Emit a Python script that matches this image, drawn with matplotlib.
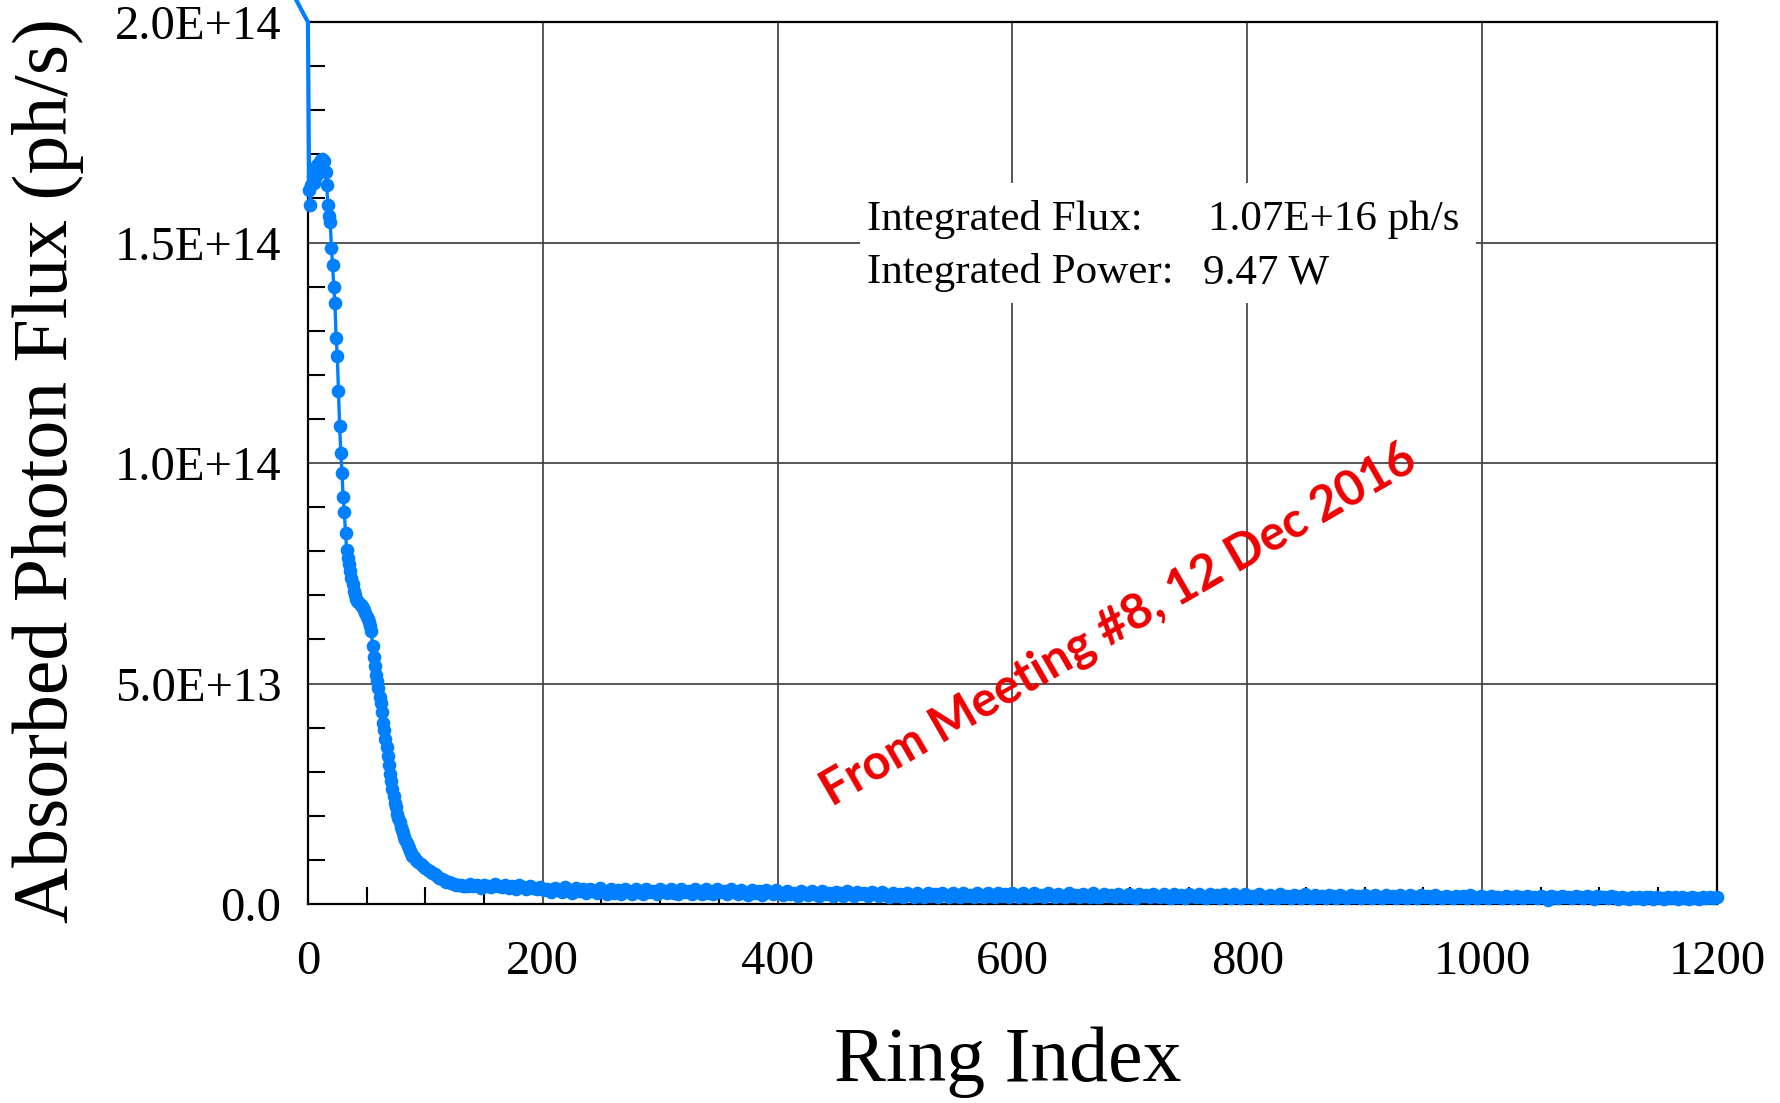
import numpy as np
import matplotlib
matplotlib.use("Agg")
import matplotlib.pyplot as plt
from matplotlib.patches import Rectangle
from matplotlib.ticker import MultipleLocator

# ---------------- data ----------------
lead_index = [-12, 0, 1]
lead_flux = [2.06e14, 2.0e14, 1.62e14]

head_index = list(range(1, 91)) + list(range(92, 137, 2))
head_flux_e13 = [
    16.2, 15.85, 16.3, 16.5, 16.35, 16.6, 16.5, 16.75, 16.6, 16.85,
    16.7, 16.9, 16.8, 16.85, 16.6, 16.3, 15.85, 15.6, 15.46, 14.87,
    14.49, 13.99, 13.63, 12.83, 12.43, 11.63, 10.84, 10.23, 9.77, 9.23,
    8.89, 8.41, 8.03, 7.85, 7.7, 7.55, 7.4, 7.25, 7.1, 7.0,
    6.92, 6.88, 6.84, 6.8, 6.78, 6.75, 6.72, 6.66, 6.6, 6.52,
    6.46, 6.4, 6.3, 6.2, 5.85, 5.6, 5.4, 5.2, 5.05, 4.9,
    4.7, 4.55, 4.35, 4.1, 3.95, 3.75, 3.55, 3.35, 3.15, 2.95,
    2.8, 2.6, 2.45, 2.3, 2.2, 2.05, 1.95, 1.85, 1.75, 1.67,
    1.6, 1.52, 1.45, 1.38, 1.32, 1.26, 1.2, 1.15, 1.1, 1.06,
    1.0, 0.95, 0.9, 0.86, 0.82, 0.78, 0.75, 0.71, 0.67, 0.63,
    0.6, 0.57, 0.54, 0.51, 0.49, 0.47, 0.45, 0.44, 0.43, 0.42,
    0.41, 0.41, 0.40,
]

tail_index = list(range(138, 1201, 3))
tail_flux_e12 = [
    4.6, 4.0, 4.3, 3.7, 4.4, 4.1, 3.8, 4.5, 4.0, 3.9,
    4.3, 3.6, 4.0, 3.5, 4.2, 3.8, 3.4, 4.1, 3.7, 3.5,
    3.9, 3.1, 3.5, 2.7, 3.6, 3.2, 2.8, 3.8, 3.0, 2.6,
    3.6, 2.9, 3.3, 2.4, 3.5, 3.0, 2.5, 3.6, 2.8, 2.3,
    3.4, 2.6, 3.1, 2.2, 3.3, 2.9, 2.3, 3.5, 2.7, 2.2,
    3.4, 2.8, 3.0, 2.3, 3.5, 2.9, 2.4, 3.3, 2.6, 2.3,
    3.4, 2.7, 3.0, 2.2, 3.3, 2.9, 2.3, 3.4, 2.6, 2.2,
    3.3, 2.7, 2.9, 2.2, 3.4, 2.8, 2.3, 3.2, 2.6, 2.1,
    3.2, 2.6, 2.9, 2.1, 3.2, 2.7, 2.2, 3.1, 2.5, 2.0,
    3.0, 2.3, 2.6, 1.9, 2.9, 2.5, 2.0, 2.9, 2.3, 1.9,
    2.9, 2.3, 2.6, 1.8, 2.8, 2.4, 1.9, 2.9, 2.2, 1.8,
    2.8, 2.2, 2.5, 1.8, 2.8, 2.3, 1.9, 2.7, 2.1, 1.7,
    2.6, 1.9, 2.2, 1.6, 2.5, 2.1, 1.6, 2.5, 1.9, 1.5,
    2.5, 1.9, 2.2, 1.6, 2.5, 2.0, 1.6, 2.4, 1.8, 1.5,
    2.5, 1.9, 2.1, 1.6, 2.4, 2.0, 1.6, 2.5, 1.8, 1.5,
    2.4, 1.9, 2.2, 1.5, 2.4, 2.0, 1.6, 2.4, 1.8, 1.5,
    2.4, 1.8, 2.1, 1.5, 2.4, 2.0, 1.5, 2.3, 1.8, 1.5,
    2.4, 1.8, 2.1, 1.5, 2.3, 1.9, 1.5, 2.4, 1.7, 1.5,
    2.3, 1.8, 2.0, 1.5, 2.3, 1.9, 1.5, 2.3, 1.7, 1.4,
    2.3, 1.8, 2.0, 1.5, 2.3, 1.9, 1.5, 2.2, 1.7, 1.4,
    2.3, 1.7, 2.0, 1.4, 2.2, 1.9, 1.5, 2.3, 1.7, 1.4,
    2.2, 1.7, 2.0, 1.4, 2.2, 1.8, 1.4, 2.2, 1.7, 1.4,
    2.2, 1.7, 1.9, 1.4, 2.2, 1.8, 1.4, 2.1, 1.6, 1.4,
    2.2, 1.7, 1.9, 1.4, 2.1, 1.8, 1.4, 2.2, 1.6, 1.3,
    2.1, 1.7, 1.9, 1.4, 2.1, 1.8, 1.4, 2.1, 1.6, 1.3,
    2.1, 1.6, 1.9, 1.4, 2.1, 1.7, 1.4, 2.0, 1.6, 1.3,
    2.0, 1.6, 1.8, 1.4, 2.0, 1.7, 1.4, 2.0, 1.6, 1.3,
    2.0, 1.6, 1.8, 1.3, 2.0, 1.7, 1.4, 1.9, 1.5, 1.3,
    1.9, 1.6, 1.8, 1.3, 2.0, 1.7, 1.3, 1.9, 1.5, 1.3,
    1.9, 1.5, 1.7, 1.3, 1.9, 1.6, 1.3, 1.9, 1.5, 1.3,
    1.9, 1.5, 1.7, 1.3, 1.9, 1.6, 0.8, 1.8, 1.5, 1.3,
    1.8, 1.5, 1.7, 1.3, 1.8, 1.6, 1.3, 1.8, 1.5, 1.2,
    1.8, 1.5, 1.6, 1.3, 1.8, 1.5, 1.2, 1.7, 1.4, 1.2,
    1.7, 1.4, 1.6, 1.2, 1.7, 1.5, 1.2, 1.7, 1.4, 1.2,
    1.7, 1.4, 1.6, 1.2, 1.7, 1.4, 1.2, 1.6, 1.4, 1.2,
    1.6, 1.4, 1.5, 1.3, 1.5,
]

x_ticks = [0, 200, 400, 600, 800, 1000, 1200]
x_tick_labels = ["0", "200", "400", "600", "800", "1000", "1200"]
y_ticks = [0.0, 5e13, 1e14, 1.5e14, 2e14]
y_tick_labels = ["0.0", "5.0E+13", "1.0E+14", "1.5E+14", "2.0E+14"]

x_label = "Ring Index"
y_label = "Absorbed Photon Flux (ph/s)"
info_labels = ["Integrated Flux:", "Integrated Power:"]
info_values = ["1.07E+16 ph/s", "9.47 W"]
stamp = "From Meeting #8, 12 Dec 2016"

# ---------------- plot ----------------
serif = ["Liberation Serif", "DejaVu Serif"]
blue = "#0080FF"

fig = plt.figure(figsize=(17.81, 11.03), dpi=100)
ax = fig.add_axes([0.1729, 0.1804, 0.7911, 0.7996])

x_all = np.array(head_index + tail_index)
y_all = np.concatenate([np.array(head_flux_e13) * 1e13, np.array(tail_flux_e12) * 1e12])

ax.plot(lead_index, lead_flux, color=blue, lw=3.0, zorder=3, clip_on=False)
ax.plot(x_all, y_all, color=blue, lw=2.4, marker="o", ms=8.8, mec=blue, mfc=blue,
        zorder=3, clip_on=False)

ax.set_xlim(0, 1200)
ax.set_ylim(0, 2e14)
ax.set_xticks(x_ticks)
ax.set_xticklabels(x_tick_labels, fontfamily=serif, fontsize=35)
ax.set_yticks(y_ticks)
ax.set_yticklabels(y_tick_labels, fontfamily=serif, fontsize=35)
ax.xaxis.set_minor_locator(MultipleLocator(50))
ax.yaxis.set_minor_locator(MultipleLocator(1e13))
ax.tick_params(axis="x", which="major", length=0, pad=26)
ax.tick_params(axis="y", which="major", length=0, pad=19)
ax.tick_params(which="minor", direction="in", length=12, width=1.5, color="black",
               left=True, bottom=True, right=False, top=False)

ax.set_axisbelow(True)
ax.grid(True, which="major", color="#3a3a3a", lw=1.2)
for s in ax.spines.values():
    s.set_linewidth(1.6)
    s.set_color("black")

# white box behind the annotation
ax.add_patch(Rectangle((0.392, 0.681), 0.437, 0.1365, transform=ax.transAxes,
                       facecolor="white", edgecolor="none", zorder=1))
ax.text(0.397, 0.764, info_labels[0], transform=ax.transAxes, fontfamily=serif,
        fontsize=31, va="baseline", ha="left", zorder=4)
ax.text(0.397, 0.704, info_labels[1], transform=ax.transAxes, fontfamily=serif,
        fontsize=31, va="baseline", ha="left", zorder=4)
ax.text(0.639, 0.764, info_values[0], transform=ax.transAxes, fontfamily=serif,
        fontsize=31, va="baseline", ha="left", zorder=4)
ax.text(0.635, 0.704, info_values[1], transform=ax.transAxes, fontfamily=serif,
        fontsize=31, va="baseline", ha="left", zorder=4)

ax.text(0.5756, 0.3163, stamp, transform=ax.transAxes, rotation=30, rotation_mode="anchor",
        ha="center", va="center", color="#EE0000", fontsize=35, fontweight="bold",
        fontfamily=["Lato", "DejaVu Sans"], zorder=5)

fig.text(48 / 1781, 1 - 471 / 1103, y_label, rotation=90, ha="center", va="center",
         fontfamily=serif, fontsize=56)
fig.text(1008 / 1781, 1 - 1062 / 1103, x_label, ha="center", va="center",
         fontfamily=serif, fontsize=56)

fig.savefig("out.png", dpi=100)
